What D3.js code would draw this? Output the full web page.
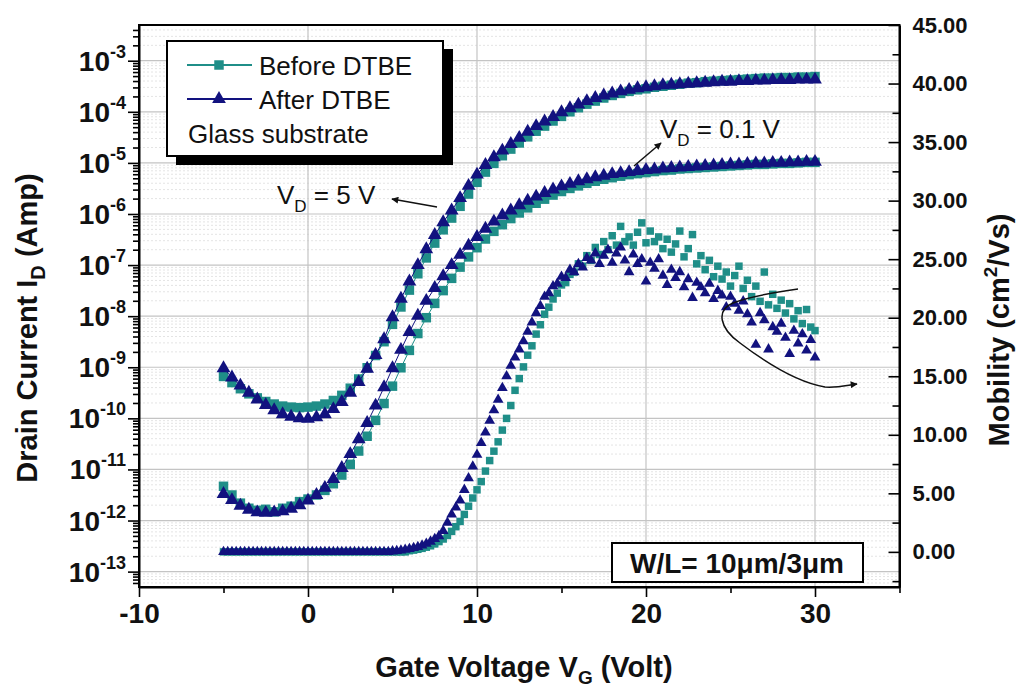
<!DOCTYPE html>
<html>
<head>
<meta charset="utf-8">
<script src="https://cdn.jsdelivr.net/npm/d3@7"></script>
<style>
  body { margin: 0; background: #fff; }
  text { font-family: Arial, "Liberation Sans", Helvetica, sans-serif; }
</style>
</head>
<body>
<svg id="chart"></svg>
<script>
// 1. Data
// gate voltage sweeps (V)
const vgTransfer = d3.range(-5, 30.001, 0.5);
const vgMobility = d3.range(-5, 30.001, 0.25);

// drain current, stored as log10(I_D / A)
const idHighAfter = [
  -9.02, -9.20, -9.36, -9.50, -9.63, -9.74, -9.84, -9.92, -9.97, -10.00,
  -10.01, -9.98, -9.92, -9.82, -9.68, -9.50, -9.29, -9.03, -8.76, -8.45,
  -8.02, -7.66, -7.32, -7.00, -6.69, -6.41, -6.16, -5.93, -5.69, -5.45,
  -5.23, -5.04, -4.89, -4.76, -4.63, -4.51, -4.39, -4.28, -4.19, -4.10,
  -4.01, -3.93, -3.86, -3.79, -3.73, -3.68, -3.64, -3.60, -3.57, -3.54,
  -3.52, -3.50, -3.48, -3.47, -3.46, -3.45, -3.44, -3.43, -3.42, -3.41,
  -3.41, -3.40, -3.40, -3.39, -3.39, -3.38, -3.38, -3.38, -3.37, -3.37,
  -3.37
];
const idHighBefore = [
  -9.18, -9.30, -9.42, -9.52, -9.60, -9.67, -9.72, -9.76, -9.78, -9.79,
  -9.78, -9.76, -9.72, -9.65, -9.55, -9.41, -9.23, -9.01, -8.77, -8.50,
  -8.16, -7.82, -7.49, -7.17, -6.86, -6.57, -6.31, -6.08, -5.85, -5.61,
  -5.38, -5.18, -5.01, -4.86, -4.73, -4.61, -4.49, -4.38, -4.28, -4.18,
  -4.09, -4.00, -3.92, -3.85, -3.79, -3.73, -3.68, -3.64, -3.60, -3.57,
  -3.55, -3.52, -3.50, -3.48, -3.46, -3.44, -3.43, -3.41, -3.40, -3.39,
  -3.38, -3.37, -3.36, -3.35, -3.34, -3.34, -3.33, -3.33, -3.32, -3.32,
  -3.31
];
const idLowAfter = [
  -11.48, -11.60, -11.71, -11.79, -11.84, -11.85, -11.84, -11.82, -11.77, -11.70,
  -11.61, -11.50, -11.36, -11.19, -10.97, -10.70, -10.41, -10.09, -9.75, -9.39,
  -9.02, -8.66, -8.31, -7.99, -7.70, -7.45, -7.22, -7.00, -6.80, -6.62,
  -6.45, -6.29, -6.15, -6.03, -5.93, -5.83, -5.74, -5.66, -5.59, -5.52,
  -5.46, -5.41, -5.36, -5.32, -5.28, -5.25, -5.22, -5.20, -5.18, -5.16,
  -5.14, -5.13, -5.11, -5.10, -5.09, -5.08, -5.07, -5.06, -5.05, -5.04,
  -5.03, -5.03, -5.02, -5.01, -5.01, -5.00, -5.00, -4.99, -4.99, -4.98,
  -4.98
];
const idLowBefore = [
  -11.33, -11.50, -11.66, -11.76, -11.80, -11.78, -11.83, -11.76, -11.72, -11.63,
  -11.58, -11.50, -11.41, -11.28, -11.11, -10.90, -10.64, -10.35, -10.04, -9.71,
  -9.37, -9.01, -8.67, -8.34, -8.03, -7.75, -7.50, -7.26, -7.04, -6.84,
  -6.66, -6.49, -6.34, -6.21, -6.09, -5.98, -5.88, -5.79, -5.71, -5.63,
  -5.56, -5.50, -5.45, -5.40, -5.36, -5.32, -5.29, -5.26, -5.23, -5.21,
  -5.19, -5.17, -5.15, -5.14, -5.12, -5.11, -5.10, -5.09, -5.08, -5.07,
  -5.06, -5.05, -5.04, -5.03, -5.03, -5.02, -5.01, -5.01, -5.00, -4.99,
  -4.99
];

// field effect mobility (cm2/Vs)
const muAfter = [
  0, 0, 0, 0, 0, 0, 0, 0, 0, 0,
  0, 0, 0, 0, 0, 0, 0, 0, 0, 0,
  0, 0, 0, 0, 0, 0, 0, 0, 0, 0,
  0, 0, 0, 0, 0, 0, 0, 0, 0, 0,
  0.05, 0.08, 0.12, 0.18, 0.25, 0.33, 0.43, 0.55, 0.7, 0.88,
  1.1, 1.35, 1.8, 2.5, 3.2, 3.8, 4.4, 5.3, 6.3, 7.3,
  8.3, 9.3, 10.2, 11.2, 12.1, 13.0, 14.0, 15.0, 15.9, 16.6,
  17.3, 18.0, 18.8, 19.6, 20.4, 21.0, 21.8, 22.1, 22.7, 22.9,
  23.5, 23.4, 24.1, 23.9, 24.6, 24.3, 25.1, 24.9, 25.5, 24.6,
  25.3, 25.8, 24.7, 25.5, 26.0, 24.9, 23.9, 25.4, 24.6, 25.0,
  23.1, 24.7, 24.2, 25.0, 23.6, 22.8, 24.1, 23.4, 23.9, 22.6,
  23.3, 21.7, 23.0, 22.6, 22.1, 22.9, 21.6, 22.3, 21.9, 20.9,
  21.8, 21.2, 20.6, 21.4, 20.3, 19.6, 17.7, 20.4, 19.8, 17.3,
  19.2, 18.8, 19.5, 18.3, 16.9, 18.9, 17.8, 18.6, 17.2, 18.1,
  16.6
];
const muBefore = [
  0, 0, 0, 0, 0, 0, 0, 0, 0, 0,
  0, 0, 0, 0, 0, 0, 0, 0, 0, 0,
  0, 0, 0, 0, 0, 0, 0, 0, 0, 0,
  0, 0, 0, 0, 0, 0, 0, 0, 0, 0,
  0, 0, 0, 0,
  0.1, 0.15, 0.22, 0.3, 0.4, 0.52, 0.68, 0.88, 1.1, 1.4,
  1.75, 2.15, 2.6, 3.2, 3.9, 4.6, 5.3, 6.0, 6.9, 7.8,
  8.6, 9.4, 10.4, 11.4, 12.5, 13.8, 14.8, 15.8, 16.8, 17.6,
  18.6, 19.4, 20.3, 20.9, 21.6, 22.1, 22.8, 23.0, 23.7, 23.9,
  24.6, 24.4, 25.3, 24.9, 26.0, 25.4, 26.5, 25.8, 27.0, 26.2,
  27.8, 26.5, 26.9, 26.2, 27.3, 28.1, 26.4, 27.4, 26.5, 26.9,
  25.9, 26.7, 25.6, 26.3, 27.4, 25.2, 25.9, 27.1, 24.6, 25.3,
  24.1, 24.9, 23.5, 24.4, 23.3, 23.9, 22.7, 23.6, 24.4, 22.5,
  23.2, 21.8, 22.7, 21.4, 23.9, 21.1, 22.0, 20.8, 21.5, 20.4,
  21.2, 19.9, 20.6, 19.5, 20.7, 19.2, 18.9
];

// tick labels
const xMajorTicks = [-10, 0, 10, 20, 30];
const xMinorTicks = [-5, 5, 15, 25, 35];
const decadeExps = [-13, -12, -11, -10, -9, -8, -7, -6, -5, -4, -3];
const muMajorTicks = [0, 5, 10, 15, 20, 25, 30, 35, 40, 45];
const muMinorTicks = [-2.5, 2.5, 7.5, 12.5, 17.5, 22.5, 27.5, 32.5, 37.5, 42.5];

const teal = "#1f8e88";
const navy = "#12127f";

// 2. Chart setup
const width = 1025,
  height = 691;
const plot = { left: 139, right: 899.5, top: 25, bottom: 587 };

const svg = d3.select("#chart").attr("width", width).attr("height", height);

const x = d3.scaleLinear().domain([-10, 35]).range([plot.left, plot.right]);
const y = d3.scaleLog().domain([5e-14, 5e-3]).range([plot.bottom, plot.top]);
const yMu = d3.scaleLinear().domain([-3, 45]).range([plot.bottom, plot.top]);

const minorLog = [];
decadeExps.concat([-14]).forEach((e) => {
  for (let m = 2; m <= 9; m++) {
    const v = m * Math.pow(10, e);
    if (v > 5e-14 && v < 5e-3) minorLog.push(v);
  }
});

// 3. Grid
const grid = svg.append("g");
grid
  .selectAll(".gmin")
  .data(minorLog)
  .enter()
  .append("line")
  .attr("x1", plot.left)
  .attr("x2", plot.right)
  .attr("y1", (d) => y(d))
  .attr("y2", (d) => y(d))
  .attr("stroke", "#e4e4e4")
  .attr("stroke-dasharray", "2,2");
grid
  .selectAll(".gmaj")
  .data(decadeExps)
  .enter()
  .append("line")
  .attr("x1", plot.left)
  .attr("x2", plot.right)
  .attr("y1", (d) => y(Math.pow(10, d)))
  .attr("y2", (d) => y(Math.pow(10, d)))
  .attr("stroke", "#c4c4c4")
  .attr("stroke-width", 1.2);
grid
  .selectAll(".gx")
  .data(xMajorTicks.slice(1))
  .enter()
  .append("line")
  .attr("x1", (d) => x(d))
  .attr("x2", (d) => x(d))
  .attr("y1", plot.top)
  .attr("y2", plot.bottom)
  .attr("stroke", "#c4c4c4")
  .attr("stroke-width", 1.2);

// 4. Data series
const triBig = d3.symbol().type(d3.symbolTriangle).size(82);
const sqBig = d3.symbol().type(d3.symbolSquare).size(90);
const triSmall = d3.symbol().type(d3.symbolTriangle).size(50);
const sqSmall = d3.symbol().type(d3.symbolSquare).size(56);

const line = d3
  .line()
  .x((d) => x(d[0]))
  .y((d) => y(Math.pow(10, d[1])));

function drawTransfer(values, color, shape) {
  const pts = vgTransfer.map((v, i) => [v, values[i]]);
  svg
    .append("path")
    .datum(pts)
    .attr("d", line)
    .attr("fill", "none")
    .attr("stroke", color)
    .attr("stroke-width", 1);
  svg
    .append("g")
    .selectAll("path")
    .data(pts)
    .enter()
    .append("path")
    .attr("d", shape)
    .attr("transform", (d) => `translate(${x(d[0])},${y(Math.pow(10, d[1]))})`)
    .attr("fill", color);
}

function drawMobility(values, color, shape) {
  svg
    .append("g")
    .selectAll("path")
    .data(vgMobility.map((v, i) => [v, values[i]]))
    .enter()
    .append("path")
    .attr("d", shape)
    .attr("transform", (d) => `translate(${x(d[0])},${yMu(d[1])})`)
    .attr("fill", color);
}

drawMobility(muBefore, teal, sqSmall);
drawMobility(muAfter, navy, triSmall);
drawTransfer(idLowBefore, teal, sqBig);
drawTransfer(idLowAfter, navy, triBig);
drawTransfer(idHighBefore, teal, sqBig);
drawTransfer(idHighAfter, navy, triBig);

// 5. Axes
const bottomAxis = svg
  .append("g")
  .attr("transform", `translate(0,${plot.bottom})`)
  .call(
    d3.axisBottom(x).tickValues(xMajorTicks).tickSize(10).tickSizeOuter(0).tickPadding(6).tickFormat((d) => String(d))
  );
bottomAxis.selectAll("text").attr("font-size", 28).attr("font-weight", "bold").attr("fill", "#111");
svg
  .append("g")
  .attr("transform", `translate(0,${plot.bottom})`)
  .call(d3.axisBottom(x).tickValues(xMinorTicks).tickSize(6).tickFormat(""))
  .select(".domain")
  .remove();

svg
  .append("g")
  .attr("transform", `translate(${plot.left},0)`)
  .call(d3.axisLeft(y).tickValues(decadeExps.map((e) => Math.pow(10, e))).tickSize(11).tickSizeOuter(0).tickFormat(""));
svg
  .append("g")
  .attr("transform", `translate(${plot.left},0)`)
  .call(d3.axisLeft(y).tickValues(minorLog).tickSize(6).tickFormat(""))
  .select(".domain")
  .remove();

const expLabels = svg
  .append("g")
  .selectAll("text")
  .data(decadeExps)
  .enter()
  .append("text")
  .attr("x", 126)
  .attr("y", (d) => y(Math.pow(10, d)) + 10)
  .attr("text-anchor", "end")
  .attr("font-weight", "bold")
  .attr("fill", "#111");
expLabels.append("tspan").attr("font-size", 28).text("10");
expLabels
  .append("tspan")
  .attr("font-size", 18)
  .attr("dy", -13)
  .text((d) => d);

const rightAxis = svg
  .append("g")
  .attr("transform", `translate(${plot.right},0)`)
  .call(d3.axisRight(yMu).tickValues(muMajorTicks).tickSize(-11).tickSizeOuter(0).tickPadding(13).tickFormat(d3.format(".2f")));
rightAxis.selectAll("text").attr("font-size", 22).attr("font-weight", "bold").attr("fill", "#111");
svg
  .append("g")
  .attr("transform", `translate(${plot.right},0)`)
  .call(d3.axisRight(yMu).tickValues(muMinorTicks).tickSize(-7).tickFormat(""))
  .select(".domain")
  .remove();

svg.selectAll(".domain").attr("stroke-width", 2);
svg.selectAll(".tick line").attr("stroke-width", 1.6);

// frame
svg
  .append("rect")
  .attr("x", plot.left)
  .attr("y", plot.top)
  .attr("width", plot.right - plot.left)
  .attr("height", plot.bottom - plot.top)
  .attr("fill", "none")
  .attr("stroke", "#000")
  .attr("stroke-width", 2);

// 6. Axis titles
const xTitle = svg
  .append("text")
  .attr("x", 524)
  .attr("y", 677)
  .attr("text-anchor", "middle")
  .attr("font-size", 29)
  .attr("font-weight", "bold")
  .attr("fill", "#111");
xTitle.append("tspan").text("Gate Voltage V");
xTitle.append("tspan").attr("font-size", 19).attr("dy", 7).text("G");
xTitle.append("tspan").attr("dy", -7).text(" (Volt)");

const yTitle = svg
  .append("text")
  .attr("transform", "translate(37,328) rotate(-90)")
  .attr("text-anchor", "middle")
  .attr("font-size", 29)
  .attr("font-weight", "bold")
  .attr("fill", "#111");
yTitle.append("tspan").text("Drain Current I");
yTitle.append("tspan").attr("font-size", 20).attr("dy", 8).text("D");
yTitle.append("tspan").attr("dy", -8).text(" (Amp)");

const muTitle = svg
  .append("text")
  .attr("transform", "translate(1009,330) rotate(-90)")
  .attr("text-anchor", "middle")
  .attr("font-size", 29)
  .attr("font-weight", "bold")
  .attr("fill", "#111");
muTitle.append("tspan").text("Mobility (cm");
muTitle.append("tspan").attr("font-size", 19).attr("dy", -12).text("2");
muTitle.append("tspan").attr("dy", 12).text("/Vs)");

// 7. Legend
const legend = svg.append("g");
legend.append("rect").attr("x", 176).attr("y", 49).attr("width", 277).attr("height", 116).attr("fill", "#000");
legend
  .append("rect")
  .attr("x", 167)
  .attr("y", 41)
  .attr("width", 276)
  .attr("height", 115)
  .attr("fill", "#fff")
  .attr("stroke", "#000")
  .attr("stroke-width", 2);

const legendItems = [
  { name: "Before DTBE", color: teal, shape: sqBig, y: 65 },
  { name: "After DTBE", color: navy, shape: triBig, y: 99 }
];
const li = legend
  .selectAll(".li")
  .data(legendItems)
  .enter()
  .append("g");
li.append("line")
  .attr("x1", 187)
  .attr("x2", 252)
  .attr("y1", (d) => d.y)
  .attr("y2", (d) => d.y)
  .attr("stroke", (d) => d.color)
  .attr("stroke-width", 2);
li.append("path")
  .attr("d", (d) => d.shape())
  .attr("transform", (d) => `translate(219,${d.y})`)
  .attr("fill", (d) => d.color);
li.append("text")
  .attr("x", 259)
  .attr("y", (d) => d.y + 10)
  .attr("font-size", 26)
  .attr("fill", "#111")
  .text((d) => d.name);
legend.append("text").attr("x", 188).attr("y", 143).attr("font-size", 26).attr("fill", "#111").text("Glass substrate");

// 8. Annotations
svg
  .append("defs")
  .append("marker")
  .attr("id", "arrow")
  .attr("viewBox", "0 0 10 10")
  .attr("refX", 9)
  .attr("refY", 5)
  .attr("markerWidth", 10)
  .attr("markerHeight", 7)
  .attr("markerUnits", "userSpaceOnUse")
  .attr("orient", "auto")
  .append("path")
  .attr("d", "M0,0 L10,5 L0,10 Z")
  .attr("fill", "#111");

const vd5 = svg.append("text").attr("x", 277).attr("y", 204).attr("font-size", 26).attr("fill", "#111");
vd5.append("tspan").text("V");
vd5.append("tspan").attr("font-size", 17).attr("dy", 8).text("D");
vd5.append("tspan").attr("dy", -8).text(" = 5 V");
svg
  .append("line")
  .attr("x1", 437)
  .attr("y1", 207)
  .attr("x2", 392)
  .attr("y2", 199)
  .attr("stroke", "#111")
  .attr("stroke-width", 1.5)
  .attr("marker-end", "url(#arrow)");

const vd01 = svg.append("text").attr("x", 660).attr("y", 138).attr("font-size", 26).attr("fill", "#111");
vd01.append("tspan").text("V");
vd01.append("tspan").attr("font-size", 17).attr("dy", 8).text("D");
vd01.append("tspan").attr("dy", -8).text(" = 0.1 V");
svg
  .append("line")
  .attr("x1", 634)
  .attr("y1", 166)
  .attr("x2", 661)
  .attr("y2", 143)
  .attr("stroke", "#111")
  .attr("stroke-width", 1.5)
  .attr("marker-end", "url(#arrow)");

svg
  .append("path")
  .attr("d", "M798,289 C770,293 748,297 733,303 C716,310 719,328 740,343 C765,362 795,382 825,387 C838,388 848,385 857,384")
  .attr("fill", "none")
  .attr("stroke", "#111")
  .attr("stroke-width", 1.5)
  .attr("marker-end", "url(#arrow)");

// W/L box
svg
  .append("rect")
  .attr("x", 612)
  .attr("y", 543)
  .attr("width", 251)
  .attr("height", 39)
  .attr("fill", "#fff")
  .attr("stroke", "#000")
  .attr("stroke-width", 2);
svg
  .append("text")
  .attr("x", 737)
  .attr("y", 573)
  .attr("text-anchor", "middle")
  .attr("font-size", 28)
  .attr("font-weight", "bold")
  .attr("fill", "#111")
  .text("W/L= 10μm/3μm");
</script>
</body>
</html>
